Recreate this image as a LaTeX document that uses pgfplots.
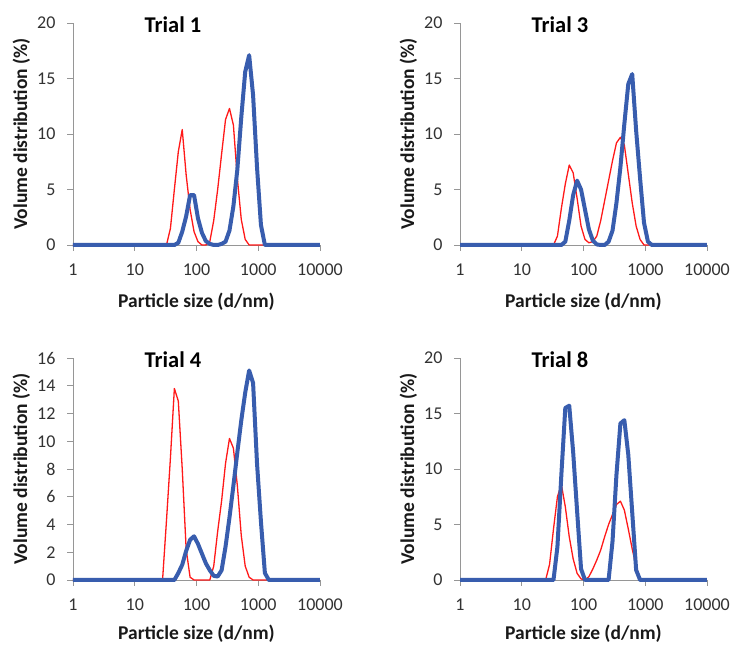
\documentclass[border=0pt]{standalone}
\usepackage{fontspec}
\setmainfont{Carlito}
\usepackage{pgfplots}
\pgfplotsset{compat=1.18}
\definecolor{dblue}{RGB}{56,93,174}
\definecolor{dred}{RGB}{255,25,25}
\definecolor{axgray}{RGB}{150,150,150}
\definecolor{txt}{RGB}{50,50,50}
\tikzset{redline/.style={dred, line width=1.3pt, line join=round},
         blueline/.style={dblue, line width=4pt, line join=round}}
\pgfplotsset{
  every axis title/.append style={at={(axis description cs:0.405,0.93)}, anchor=base, font=\bfseries\fontsize{22.5}{24}\selectfont},
  every axis x label/.append style={at={(axis description cs:0.5,-0.2838)}, anchor=base, font=\bfseries\fontsize{19.5}{22}\selectfont, text=black!90},
  every axis y label/.append style={at={(axis description cs:-0.1862,0.5)}, anchor=base, font=\bfseries\fontsize{19.5}{22}\selectfont, text=black!90},
  every tick label/.append style={font=\fontsize{18}{20}\selectfont, text=txt},
  every x tick label/.append style={yshift=-9pt},
  every y tick label/.append style={xshift=-8pt},
}
\begin{document}
\begin{tikzpicture}
\useasboundingbox (0,0) rectangle (732pt,645pt);
\fill[white] (0,0) rectangle (732pt,645pt);
% Trial 1
\begin{axis}[scale only axis, width=247pt, height=222pt,
  xmode=log, xmin=1, xmax=10000, ymin=0, ymax=20,
  axis x line*=bottom, axis y line*=left,
  axis line style={axgray, line width=0.9pt},
  major tick style={axgray, line width=0.9pt},
  tick align=outside, major tick length=6pt,
  minor tick num=0, xminorticks=false,
  xtick={1,10,100,1000,10000}, xticklabels={1,10,100,1000,10000},
  ytick={0,5,10,15,20}, yticklabels={0,5,10,15,20},
  xlabel={Particle size (d/nm)}, ylabel={Volume distribution (\%)},
  title={Trial 1}, clip=false,
  at={(73pt,400pt)}, anchor=south west]
\addplot[redline] coordinates {(1,0) (32.67,0) (37.84,1.5) (43.82,5.0) (50.75,8.4) (58.77,10.4) (68.06,6.3) (78.82,3.2) (91.28,1.2) (105.7,0.3) (122.4,0) (141.8,0) (164.2,0.3) (190.1,2.2) (220.2,5.0) (255,8.2) (295.3,11.3) (342,12.3) (396.1,10.8) (458.7,6.0) (531.2,2.3) (615.1,0.5) (712.4,0) (10000,0)};
\addplot[blueline] coordinates {(1,0) (43.82,0) (50.75,0.2) (58.77,1.2) (68.06,2.6) (78.82,4.5) (91.28,4.5) (105.7,2.4) (122.4,1.1) (141.8,0.35) (164.2,0.1) (190.1,0) (220.2,0) (255,0.1) (295.3,0.3) (342,1.3) (396.1,3.5) (458.7,6.8) (531.2,11.5) (615.1,15.6) (712.4,17.1) (825,13.5) (955.4,7.0) (1106,1.8) (1281,0) (10000,0)};
\end{axis}
% Trial 3
\begin{axis}[scale only axis, width=247pt, height=222pt,
  xmode=log, xmin=1, xmax=10000, ymin=0, ymax=20,
  axis x line*=bottom, axis y line*=left,
  axis line style={axgray, line width=0.9pt},
  major tick style={axgray, line width=0.9pt},
  tick align=outside, major tick length=6pt,
  minor tick num=0, xminorticks=false,
  xtick={1,10,100,1000,10000}, xticklabels={1,10,100,1000,10000},
  ytick={0,5,10,15,20}, yticklabels={0,5,10,15,20},
  xlabel={Particle size (d/nm)}, ylabel={Volume distribution (\%)},
  title={Trial 3}, clip=false,
  at={(460pt,400pt)}, anchor=south west]
\addplot[redline] coordinates {(1,0) (32.67,0) (37.84,0.8) (43.82,3.3) (50.75,5.5) (58.77,7.2) (68.06,6.5) (78.82,4.2) (91.28,1.7) (105.7,0.5) (122.4,0.2) (141.8,0.3) (164.2,0.8) (190.1,2.2) (220.2,4.0) (255,5.8) (295.3,7.6) (342,9.2) (396.1,9.7) (458.7,9.0) (531.2,6.4) (615.1,3.8) (712.4,1.7) (825,0.5) (955.4,0) (10000,0)};
\addplot[blueline] coordinates {(1,0) (43.82,0) (50.75,0.3) (58.77,2.2) (68.06,4.5) (78.82,5.8) (91.28,5.0) (105.7,3.2) (122.4,1.4) (141.8,0.4) (164.2,0.05) (190.1,0) (220.2,0) (255,0.3) (295.3,1.3) (342,3.8) (396.1,7.0) (458.7,10.9) (531.2,14.5) (615.1,15.4) (712.4,10.3) (825,6.0) (955.4,2.0) (1106,0.3) (1281,0) (10000,0)};
\end{axis}
% Trial 4
\begin{axis}[scale only axis, width=247pt, height=222pt,
  xmode=log, xmin=1, xmax=10000, ymin=0, ymax=16,
  axis x line*=bottom, axis y line*=left,
  axis line style={axgray, line width=0.9pt},
  major tick style={axgray, line width=0.9pt},
  tick align=outside, major tick length=6pt,
  minor tick num=0, xminorticks=false,
  xtick={1,10,100,1000,10000}, xticklabels={1,10,100,1000,10000},
  ytick={0,2,4,6,8,10,12,14,16}, yticklabels={0,2,4,6,8,10,12,14,16},
  xlabel={Particle size (d/nm)}, ylabel={Volume distribution (\%)},
  xlabel style={at={(axis description cs:0.5,-0.268)}},
  title={Trial 4}, clip=false,
  at={(73pt,65pt)}, anchor=south west]
\addplot[redline] coordinates {(1,0) (28.21,0) (32.67,4.3) (37.84,8.8) (43.82,13.8) (50.75,12.9) (58.77,8.0) (68.06,2.2) (78.82,0.2) (91.28,0) (164.2,0) (190.1,1.0) (220.2,3.5) (255,5.7) (295.3,8.4) (342,10.2) (396.1,9.5) (458.7,6.8) (531.2,3.2) (615.1,1.0) (712.4,0.2) (825,0) (10000,0)};
\addplot[blueline] coordinates {(1,0) (43.82,0) (50.75,0.5) (58.77,1.1) (68.06,2.1) (78.82,2.9) (91.28,3.15) (105.7,2.6) (122.4,1.9) (141.8,1.2) (164.2,0.7) (190.1,0.3) (220.2,0.25) (255,0.7) (295.3,2.4) (342,4.5) (396.1,6.8) (458.7,9.2) (531.2,11.5) (615.1,13.5) (712.4,15.1) (825,14.2) (955.4,8.4) (1106,4.2) (1281,0.5) (1484,0) (10000,0)};
\end{axis}
% Trial 8
\begin{axis}[scale only axis, width=247pt, height=222pt,
  xmode=log, xmin=1, xmax=10000, ymin=0, ymax=20,
  axis x line*=bottom, axis y line*=left,
  axis line style={axgray, line width=0.9pt},
  major tick style={axgray, line width=0.9pt},
  tick align=outside, major tick length=6pt,
  minor tick num=0, xminorticks=false,
  xtick={1,10,100,1000,10000}, xticklabels={1,10,100,1000,10000},
  ytick={0,5,10,15,20}, yticklabels={0,5,10,15,20},
  xlabel={Particle size (d/nm)}, ylabel={Volume distribution (\%)},
  xlabel style={at={(axis description cs:0.5,-0.268)}},
  title={Trial 8}, clip=false,
  at={(460pt,65pt)}, anchor=south west]
\addplot[redline] coordinates {(1,0) (24.36,0) (28.21,1.4) (32.67,4.6) (37.84,7.5) (43.82,8.6) (50.75,6.6) (58.77,3.9) (68.06,1.9) (78.82,0.6) (91.28,0.1) (105.7,0) (122.4,0.3) (141.8,1.0) (164.2,1.8) (190.1,2.7) (220.2,3.9) (255,5.0) (295.3,5.9) (342,6.8) (396.1,7.1) (458.7,6.3) (531.2,4.6) (615.1,2.8) (712.4,1.2) (825,0.15) (955.4,0) (10000,0)};
\addplot[blueline] coordinates {(1,0) (32.67,0) (37.84,3.0) (43.82,9.5) (50.75,15.5) (58.77,15.7) (68.06,11.5) (78.82,6.2) (91.28,1.0) (105.7,0) (255,0) (295.3,3.5) (342,9.5) (396.1,14.1) (458.7,14.4) (531.2,11.3) (615.1,6.1) (712.4,0.9) (825,0) (10000,0)};
\end{axis}
\end{tikzpicture}
\end{document}
